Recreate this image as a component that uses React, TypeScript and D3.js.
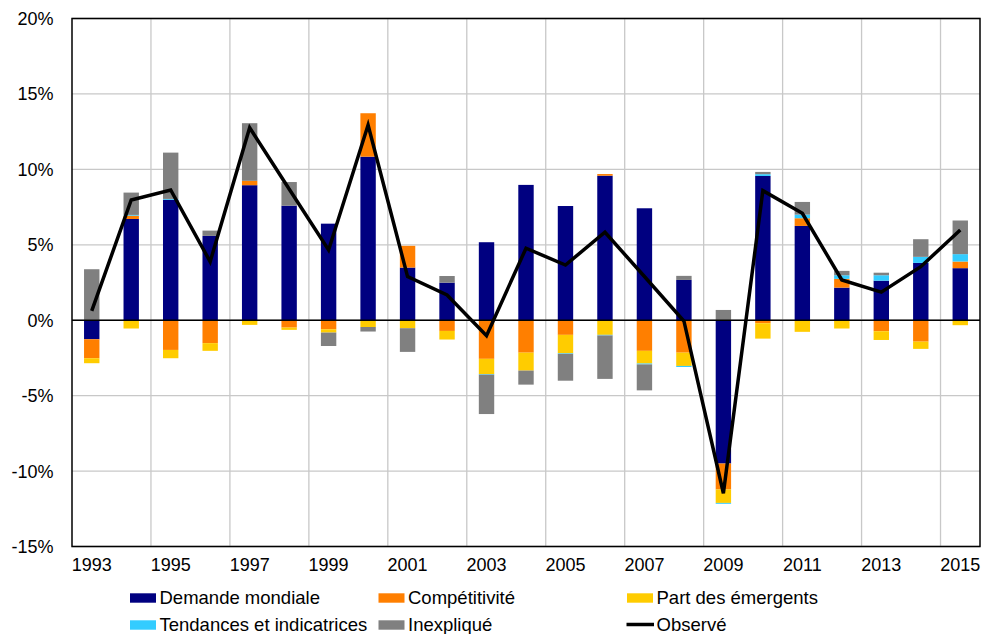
import * as d3 from "d3";

const years = [
  1993, 1994, 1995, 1996, 1997, 1998, 1999, 2000, 2001, 2002, 2003, 2004,
  2005, 2006, 2007, 2008, 2009, 2010, 2011, 2012, 2013, 2014, 2015,
];

const demande = [
  -1.26, 6.71, 7.99, 5.59, 8.95, 7.59, 6.4, 10.84, 3.49, 2.49, 5.17, 8.97,
  7.57, 9.58, 7.42, 2.67, -9.5, 9.56, 6.25, 2.16, 2.62, 3.8, 3.45,
];
const competitivite = [
  -1.26, 0.22, -1.97, -1.52, 0.29, -0.49, -0.6, 2.88, 1.44, -0.71, -2.56,
  -2.15, -0.97, 0.11, -2.03, -2.15, -1.72, -0.2, 0.51, 0.58, -0.73, -1.42, 0.44,
];
const emergents = [
  -0.33, -0.55, -0.55, -0.51, -0.31, -0.15, -0.22, -0.45, -0.53, -0.57, -1.01,
  -1.19, -1.22, -0.97, -0.84, -0.88, -0.89, -1.02, -0.77, -0.55, -0.58, -0.48,
  -0.33,
];
const tendances = [
  0, 0.05, 0.05, 0, 0, 0, 0, 0, 0, 0, -0.04, 0, -0.04, -0.04, -0.06, -0.07,
  -0.06, 0.12, 0.24, 0.24, 0.36, 0.4, 0.49,
];
const inexplique = [
  3.38, 1.48, 3.07, 0.35, 3.82, 1.57, -0.89, -0.3, -1.57, 0.44, -2.61, -0.93,
  -1.78, -2.88, -1.72, 0.27, 0.68, 0.15, 0.84, 0.29, 0.17, 1.17, 2.23,
];
const observe = [
  0.62, 7.97, 8.63, 3.88, 12.76, 8.7, 4.66, 12.94, 2.89, 1.67, -1.02, 4.77,
  3.66, 5.83, 2.9, -0.05, -11.47, 8.59, 7.09, 2.67, 1.86, 3.55, 5.98,
];

const yTicks = [-15, -10, -5, 0, 5, 10, 15, 20];
const labelYears = [1993, 1995, 1997, 1999, 2001, 2003, 2005, 2007, 2009, 2011, 2013, 2015];

const series = [
  { key: "demande", label: "Demande mondiale", color: "#000080", values: demande },
  { key: "competitivite", label: "Compétitivité", color: "#FF7F00", values: competitivite },
  { key: "emergents", label: "Part des émergents", color: "#FFCC00", values: emergents },
  { key: "tendances", label: "Tendances et indicatrices", color: "#33CCFF", values: tendances },
  { key: "inexplique", label: "Inexpliqué", color: "#808080", values: inexplique },
];

const font = "'Liberation Sans', Arial, sans-serif";

export default function App() {
  const width = 982;
  const height = 634;
  const left = 72;
  const right = 980;
  const top = 18.5;
  const bottom = 546.5;

  const x = d3.scaleBand<number>().domain(years).range([left, right]).padding(0);
  const y = d3.scaleLinear().domain([-15, 20]).range([bottom, top]);
  const bw = x.bandwidth() * 0.39;

  const table = years.map((yr, i) => {
    const row: any = { year: yr };
    series.forEach((s) => (row[s.key] = s.values[i]));
    return row;
  });
  const stacked = d3
    .stack<any>()
    .keys(series.map((s) => s.key))
    .offset(d3.stackOffsetDiverging)(table);

  const line = d3
    .line<number>()
    .x((_, i) => (x(years[i]) as number) + x.bandwidth() / 2)
    .y((d) => y(d));

  const legendCols = [130, 378.5, 627];
  const legendRows = [598, 625];
  const legendItems = [
    ...series.map((s) => ({ label: s.label, color: s.color, isLine: false })),
    { label: "Observé", color: "#000", isLine: true },
  ];

  return (
    <svg
      width={width}
      height={height}
      style={{ position: "absolute", left: 0, top: 0, background: "#fff" }}
      fontFamily={font}
    >
      {/* grid */}
      {yTicks.map((t) => (
        <line key={"h" + t} x1={left} x2={right} y1={y(t)} y2={y(t)} stroke="#c8c8c8" strokeWidth={1.3} />
      ))}
      {years.map((yr, i) =>
        i > 0 && i % 2 === 0 ? (
          <line
            key={"v" + yr}
            x1={x(yr)}
            x2={x(yr)}
            y1={top}
            y2={bottom}
            stroke="#c8c8c8"
            strokeWidth={1.3}
          />
        ) : null
      )}

      {/* bars */}
      {stacked.map((layer, si) => (
        <g key={layer.key} fill={series[si].color}>
          {layer.map((d, i) => {
            const y0 = y(d[0]);
            const y1 = y(d[1]);
            const h = Math.abs(y0 - y1);
            if (h < 0.01) return null;
            return (
              <rect
                key={i}
                x={(x(years[i]) as number) + x.bandwidth() / 2 - bw / 2}
                y={Math.min(y0, y1)}
                width={bw}
                height={h}
              />
            );
          })}
        </g>
      ))}

      {/* zero line */}
      <line x1={left} x2={right} y1={y(0)} y2={y(0)} stroke="#000" strokeWidth={1.6} />

      {/* observed */}
      <path d={line(observe) || ""} fill="none" stroke="#000" strokeWidth={3.5} strokeLinejoin="miter" />

      {/* frame */}
      <rect x={left} y={top} width={right - left} height={bottom - top} fill="none" stroke="#000" strokeWidth={1.5} />

      {/* y axis labels */}
      {yTicks.map((t) => (
        <text key={"yl" + t} x={53.5} y={y(t)} dy="0.36em" textAnchor="end" fontSize={18} fill="#000">
          {`${t}%`}
        </text>
      ))}

      {/* x axis labels */}
      {labelYears.map((yr) => (
        <text
          key={"xl" + yr}
          x={(x(yr) as number) + x.bandwidth() / 2}
          y={571}
          textAnchor="middle"
          fontSize={18}
          fill="#000"
        >
          {yr}
        </text>
      ))}

      {/* legend */}
      {legendItems.map((it, i) => {
        const lx = legendCols[i % 3];
        const ly = legendRows[Math.floor(i / 3)];
        return (
          <g key={"lg" + i}>
            {it.isLine ? (
              <line x1={lx - 0.5} x2={lx + 27} y1={ly - 0.5} y2={ly - 0.5} stroke="#000" strokeWidth={3.5} />
            ) : (
              <rect x={lx} y={ly - 4.7} width={26} height={9.4} fill={it.color} />
            )}
            <text x={lx + 29.5} y={ly + 5.5} fontSize={18.5} fill="#000">
              {it.label}
            </text>
          </g>
        );
      })}
    </svg>
  );
}
